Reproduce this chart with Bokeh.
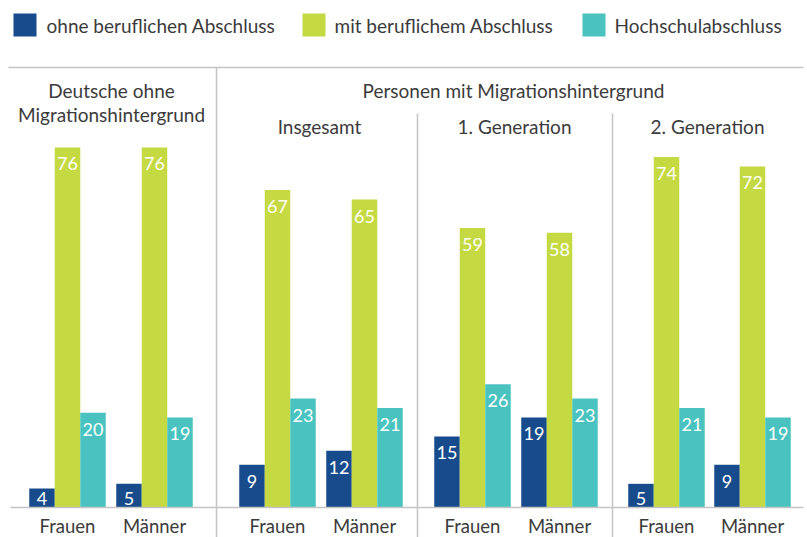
from bokeh.plotting import figure
from bokeh.models import Range1d, Label, ColumnDataSource
from bokeh.embed import file_html
from bokeh.resources import INLINE
from bokeh.core.properties import value

# ---------------- data ----------------
series_names = ["ohne beruflichen Abschluss", "mit beruflichem Abschluss", "Hochschulabschluss"]
sexes = ["Frauen", "Männer", "Frauen", "Männer", "Frauen", "Männer", "Frauen", "Männer"]
ohne = [4, 5, 9, 12, 15, 19, 5, 9]
mit = [76, 76, 67, 65, 59, 58, 74, 72]
hoch = [20, 19, 23, 21, 26, 23, 21, 19]
top_header = "Personen mit Migrationshintergrund"
group1_header = ["Deutsche ohne", "Migrationshintergrund"]
sub_headers = ["Insgesamt", "1. Generation", "2. Generation"]

# ---------------- layout ----------------
W, H = 807, 537
PX = 4.737          # pixels per percentage point
BASE = 507          # baseline pixel row (from top)
FONT = "Lato"
TXT = "#3b3b3b"
GRID = "#c4c4c4"
COLORS = ["#184b8b", "#c4d942", "#4ac3c0"]
cluster_x = [67, 154, 277, 364, 472, 559, 666, 752]
BW = 25.5


def py(px):
    """pixel row -> value units"""
    return (BASE - px) / PX


p = figure(width=W, height=H, x_range=Range1d(0, W), y_range=Range1d(py(H), py(0)),
           output_backend="svg", toolbar_location=None, min_border=0,
           x_axis_type=None, y_axis_type=None)
p.grid.visible = False
p.outline_line_color = None
p.background_fill_color = "white"

# bars
for i, (vals, col) in enumerate(zip([ohne, mit, hoch], COLORS)):
    xs = [c + (i - 1) * BW for c in cluster_x]
    src = ColumnDataSource(dict(x=xs, top=vals))
    p.vbar(x="x", top="top", bottom=0, width=BW, source=src, fill_color=col, line_color=None)
    ly = [max(v - 16.5 / PX, 9.5 / PX) for v in vals]
    lsrc = ColumnDataSource(dict(x=xs, y=ly, t=[str(v) for v in vals]))
    p.text(x="x", y="y", text="t", source=lsrc, text_color="white",
           text_font=value(FONT), text_font_size="18px",
           text_align="center", text_baseline="middle")

# lines
p.segment(x0=[8, 10], x1=[803, 803], y0=[py(67), 0], y1=[py(67), 0],
          line_color=GRID, line_width=1.5)
p.segment(x0=[216, 417, 612], x1=[216, 417, 612],
          y0=[py(67), py(113), py(113)], y1=[py(H), py(H), py(H)],
          line_color=GRID, line_width=1.5)

# x labels
xl = ColumnDataSource(dict(x=cluster_x, y=[py(525)] * 8, t=sexes))
p.text(x="x", y="y", text="t", source=xl, text_color=TXT, text_font=value(FONT),
       text_font_size="18.5px", text_align="center", text_baseline="middle")

# headers
def lab(x, ypx, t, size="19px"):
    p.add_layout(Label(x=x, y=py(ypx), text=t, text_color=TXT, text_font=FONT,
                       text_font_size=size, text_align="center", text_baseline="middle"))

lab(111, 90, group1_header[0])
lab(111, 114, group1_header[1])
lab(513, 90, top_header)
for x, t in zip([319, 514, 707], sub_headers):
    lab(x, 126, t)

# legend (manual)
sq_x = [24.5, 313.5, 593.5]
p.rect(x=sq_x, y=[py(24.5)] * 3, width=23, height=23 / PX, fill_color=COLORS, line_color=None)
lg = ColumnDataSource(dict(x=[46, 334, 614], y=[py(25)] * 3, t=series_names))
p.text(x="x", y="y", text="t", source=lg, text_color=TXT, text_font=value(FONT),
       text_font_size="19px", text_align="left", text_baseline="middle")

open("out.html", "w").write(file_html(p, INLINE))
